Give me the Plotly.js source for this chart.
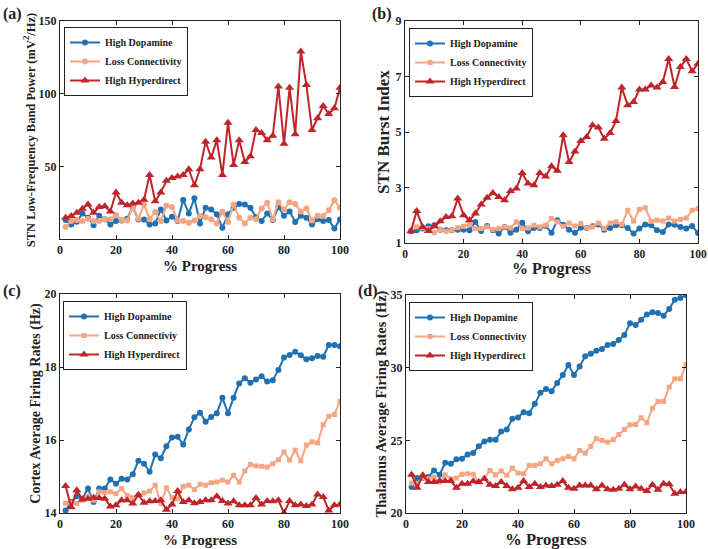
<!DOCTYPE html>
<html><head><meta charset="utf-8">
<script src="https://cdn.plot.ly/plotly-3.0.1.min.js"></script>
<style>body{margin:0;background:#fff}#chart{width:708px;height:549px}</style>
</head><body><div id="chart"></div>
<script>
// x positions: % Progress
const progress = [2,4,6,8,10,12,14,16,18,20,22,24,26,28,30,32,34,36,38,40,42,44,46,48,50,52,54,56,58,60,62,64,66,68,70,72,74,76,78,80,82,84,86,88,90,92,94,96,98,100];
const seriesNames = ['High Dopamine','Loss Connectivity','High Hyperdirect'];
const seriesNamesC = ['High Dopamine','Loss Connectiviy','High Hyperdirect'];
const xTicks = [0,20,40,60,80,100];

// (a) STN Low-Frequency Band Power
const aDopamine = [13,10,11.8,17.6,14.7,9.5,16,13.6,10,12.4,12.8,14,22,13.5,13.5,10,10.7,20.3,12.8,15.3,12.4,26.8,17.6,28,10.7,21.5,20.3,17,7.8,17,21.5,24,23.7,21.5,15,12.4,17.6,13,22,16,19,11.7,16,14.7,10,13.6,12.4,13,7.2,13.5];
const aLoss = [8.3,12.4,13,12.4,14,12.4,12.4,13.6,13.6,16.5,13,12.8,22,14,23.7,13.6,18.5,12.4,23,22,12.8,12.4,11.2,12.8,15.8,15,13.6,10.7,18.7,11.7,23.7,14.7,10.7,14.7,13.6,21,25,13.6,25.3,20.3,25.3,24,19,21,12.8,16,15.8,19.8,26.7,21.5];
const aHyper = [14.6,15.8,18,20.8,23.7,18,22,22.6,19,32,25,23.3,24.4,25,27,44,26,32,40,42,43,44,48,37,48,67,56,68,44,80,51,68,53,57,75,73,68,71,105,65.5,104,72,129,106,75,83,91.5,86,90,104];

// (b) STN Burst Index
const bDopamine = [1.42,1.46,1.52,1.6,1.64,1.48,1.46,1.46,1.48,1.48,1.46,1.76,1.43,1.61,1.46,1.34,1.58,1.37,1.48,1.73,1.42,1.54,1.54,1.61,1.37,1.82,1.66,1.48,1.37,1.55,1.54,1.6,1.67,1.48,1.54,1.64,1.64,1.54,1.34,1.52,1.67,1.64,1.46,1.4,1.67,1.66,1.58,1.52,1.61,1.36];
const bLoss = [1.46,1.58,1.55,1.52,1.37,1.48,1.42,1.46,1.55,1.6,1.66,1.52,1.52,1.58,1.48,1.52,1.58,1.54,1.76,1.52,1.54,1.64,1.58,1.64,1.88,1.76,1.6,1.72,1.61,1.7,1.54,1.58,1.72,1.52,1.72,1.76,1.67,2.18,1.79,2.21,2.27,1.78,1.82,1.79,1.9,1.79,1.85,1.9,2.18,2.24];
const bHyper = [1.42,2.15,1.58,1.43,1.6,1.78,1.94,1.96,2.6,2.0,1.82,2.06,2.39,2.63,2.8,2.66,2.54,2.87,2.96,3.52,3.14,3.08,3.52,3.4,3.77,3.6,4.88,3.92,4.3,4.68,4.82,5.24,5.16,4.76,4.96,5.4,6.6,5.96,6.08,6.53,6.53,6.68,6.6,6.8,7.63,6.62,7.34,7.63,7.19,7.46];

// (c) Cortex Average Firing Rates (Hz)
const cDopamine = [14.07,14.3,14.46,14.39,14.67,14.3,14.67,14.67,14.92,14.8,14.94,14.92,15.06,15.43,15.35,15.13,15.6,15.5,15.83,16.07,16.09,15.88,16.29,16.62,16.75,16.5,16.63,16.73,17.16,16.73,17.16,17.55,17.69,17.57,17.66,17.75,17.6,17.64,17.92,18.26,18.33,18.42,18.32,18.21,18.24,18.3,18.28,18.6,18.6,18.57];
const cLoss = [14.27,14.28,14.26,14.35,14.46,14.35,14.58,14.56,14.58,14.53,14.67,14.48,14.42,14.48,14.55,14.6,14.76,14.26,14.69,14.42,14.39,14.73,14.76,14.64,14.79,14.76,14.83,14.85,14.9,14.85,15.03,14.85,15.15,15.33,15.29,15.28,15.26,15.35,15.46,15.67,15.45,15.72,15.43,15.86,15.95,15.92,16.42,16.65,16.7,17.06];
const cHyper = [14.74,14.16,14.62,14.37,14.39,14.42,14.41,14.39,14.18,14.21,14.35,14.35,14.26,14.5,14.28,14.32,14.33,14.35,14.09,14.23,14.6,14.3,14.35,14.27,14.3,14.35,14.35,14.46,14.33,14.26,14.32,14.21,14.21,14.21,14.41,14.23,14.33,14.32,14.35,14.0,14.33,14.21,14.23,14.19,14.23,14.51,14.44,14.07,14.21,14.23];

// (d) Thalamus Average Firing Rates (Hz)
const dDopamine = [21.79,22.4,22.4,22.47,22.93,22.63,23.46,23.39,23.69,23.73,24.03,24.12,24.6,24.92,25.04,25.04,25.61,25.75,26.48,26.57,26.94,26.87,27.51,28.27,28.54,28.38,28.95,29.5,30.19,29.5,30.08,30.79,30.95,31.17,31.29,31.56,31.63,31.9,32.25,33.05,32.94,33.3,33.65,33.81,33.76,33.58,34.04,34.68,34.79,35.0];
const dLoss = [22.06,22.02,22.4,22.36,22.47,22.13,22.63,22.36,22.4,22.66,22.7,22.66,22.13,22.4,22.93,22.63,22.89,22.59,23.09,22.75,22.7,23.27,23.27,23.39,23.73,23.39,23.62,23.73,23.89,23.73,24.3,24.12,24.58,25.11,24.99,24.88,25.04,25.4,25.75,26.07,26.09,26.55,26.21,27.21,27.67,27.67,28.66,29.23,29.23,30.21];
const dHyper = [22.63,21.74,22.59,22.13,22.13,22.2,22.2,22.2,21.74,22.02,22.02,22.18,22.13,22.36,21.95,21.85,22.13,21.85,21.63,21.74,22.2,21.79,22.02,21.79,21.9,21.85,21.95,22.2,21.74,21.67,21.9,21.9,21.9,21.63,21.9,21.63,21.6,21.67,21.95,21.63,21.83,21.67,21.51,21.95,21.6,22.02,21.97,21.33,21.44,21.44];

const cBlue = '#2071b2', cOrange = '#f4a582', cRed = '#c0242b';
const FF = 'Liberation Serif, Times New Roman, serif';
const W = 708, H = 549;
const px = v => v / W, py = v => 1 - v / H;

function mk(x, y, name, color, symbol, size, xa, ya, leg) {
  return {x: x, y: y, name: name, type: 'scatter', mode: 'lines+markers',
    line: {color: color, width: 2}, marker: {color: color, symbol: symbol, size: size},
    xaxis: xa, yaxis: ya, legend: leg};
}
const traces = [
  mk(progress, aDopamine, seriesNames[0], cBlue, 'circle', 6, 'x', 'y', 'legend'),
  mk(progress, aLoss, seriesNames[1], cOrange, 'circle', 6, 'x', 'y', 'legend'),
  mk(progress, aHyper, seriesNames[2], cRed, 'triangle-up', 8, 'x', 'y', 'legend'),
  mk(progress, bDopamine, seriesNames[0], cBlue, 'circle', 6, 'x2', 'y2', 'legend2'),
  mk(progress, bLoss, seriesNames[1], cOrange, 'square', 5, 'x2', 'y2', 'legend2'),
  mk(progress, bHyper, seriesNames[2], cRed, 'triangle-up', 8, 'x2', 'y2', 'legend2'),
  mk(progress, cDopamine, seriesNamesC[0], cBlue, 'circle', 6, 'x3', 'y3', 'legend3'),
  mk(progress, cLoss, seriesNamesC[1], cOrange, 'square', 5, 'x3', 'y3', 'legend3'),
  mk(progress, cHyper, seriesNamesC[2], cRed, 'triangle-up', 8, 'x3', 'y3', 'legend3'),
  mk(progress, dDopamine, seriesNames[0], cBlue, 'circle', 6, 'x4', 'y4', 'legend4'),
  mk(progress, dLoss, seriesNames[1], cOrange, 'square', 5, 'x4', 'y4', 'legend4'),
  mk(progress, dHyper, seriesNames[2], cRed, 'triangle-up', 8, 'x4', 'y4', 'legend4')
];

function tf(s) { return {family: FF, size: s, color: '#222', weight: 'bold'}; }
function xax(domain, anchor, tsize, standoff, ticksize) {
  return {domain: domain, anchor: anchor, range: [0, 100], tickvals: xTicks,
    showline: true, linecolor: '#222', linewidth: 1, mirror: 'ticks', ticks: 'inside', ticklen: 4,
    tickcolor: '#222', showgrid: false, zeroline: false, tickfont: tf(ticksize || 12), ticklabeloverflow: 'allow',
    title: {text: '% Progress', font: tf(tsize), standoff: standoff}};
}
function yax(domain, anchor, range, tv, title, tsize, standoff) {
  return {domain: domain, anchor: anchor, range: range, tickvals: tv,
    showline: true, linecolor: '#222', linewidth: 1, mirror: 'ticks', ticks: 'inside', ticklen: 4,
    tickcolor: '#222', showgrid: false, zeroline: false, tickfont: tf(12), ticklabeloverflow: 'allow',
    title: {text: title, font: tf(tsize), standoff: standoff}};
}
function leg(x, y) {
  return {x: px(x), y: py(y), xanchor: 'left', yanchor: 'top', bgcolor: '#fff',
    bordercolor: '#222', borderwidth: 1, font: tf(10), itemwidth: 30, tracegroupgap: 0};
}
const labelFont = tf(16);

const layout = {
  width: W, height: H, margin: {l: 0, r: 0, t: 0, b: 0},
  paper_bgcolor: '#fff', plot_bgcolor: '#fff', showlegend: true,
  xaxis: xax([px(60), px(340)], 'y', 15, 4),
  yaxis: yax([py(239), py(21)], 'x', [0, 150], [50, 100, 150], 'STN Low-Frequency Band Power (mV<sup>2</sup>/Hz)', 12.5, 0),
  xaxis2: xax([px(405), px(698)], 'y2', 16, 4, 11.5),
  yaxis2: yax([py(243), py(21)], 'x2', [1, 9], [1, 3, 5, 7, 9], 'STN Burst Index', 17, 1),
  xaxis3: xax([px(60), px(340)], 'y3', 15, 4),
  yaxis3: yax([py(513), py(294)], 'x3', [14, 20], [14, 16, 18, 20], 'Cortex Average Firing Rates (Hz)', 14, 0),
  xaxis4: xax([px(406), px(686)], 'y4', 16.5, 4),
  yaxis4: yax([py(513), py(295)], 'x4', [20, 35], [20, 25, 30, 35], 'Thalamus Average Firing Rates (Hz)', 14.5, 0),
  legend: leg(64, 27), legend2: leg(409, 28), legend3: leg(63, 301), legend4: leg(409, 302),
  annotations: [
    {text: '(a)', x: px(1), y: py(3), xref: 'paper', yref: 'paper', xanchor: 'left', yanchor: 'top', showarrow: false, font: labelFont},
    {text: '(b)', x: px(370), y: py(3), xref: 'paper', yref: 'paper', xanchor: 'left', yanchor: 'top', showarrow: false, font: labelFont},
    {text: '(c)', x: px(1), y: py(280), xref: 'paper', yref: 'paper', xanchor: 'left', yanchor: 'top', showarrow: false, font: labelFont},
    {text: '(d)', x: px(356), y: py(280), xref: 'paper', yref: 'paper', xanchor: 'left', yanchor: 'top', showarrow: false, font: labelFont}
  ]
};
Plotly.newPlot('chart', traces, layout, {displayModeBar: false, staticPlot: true});
</script></body></html>
